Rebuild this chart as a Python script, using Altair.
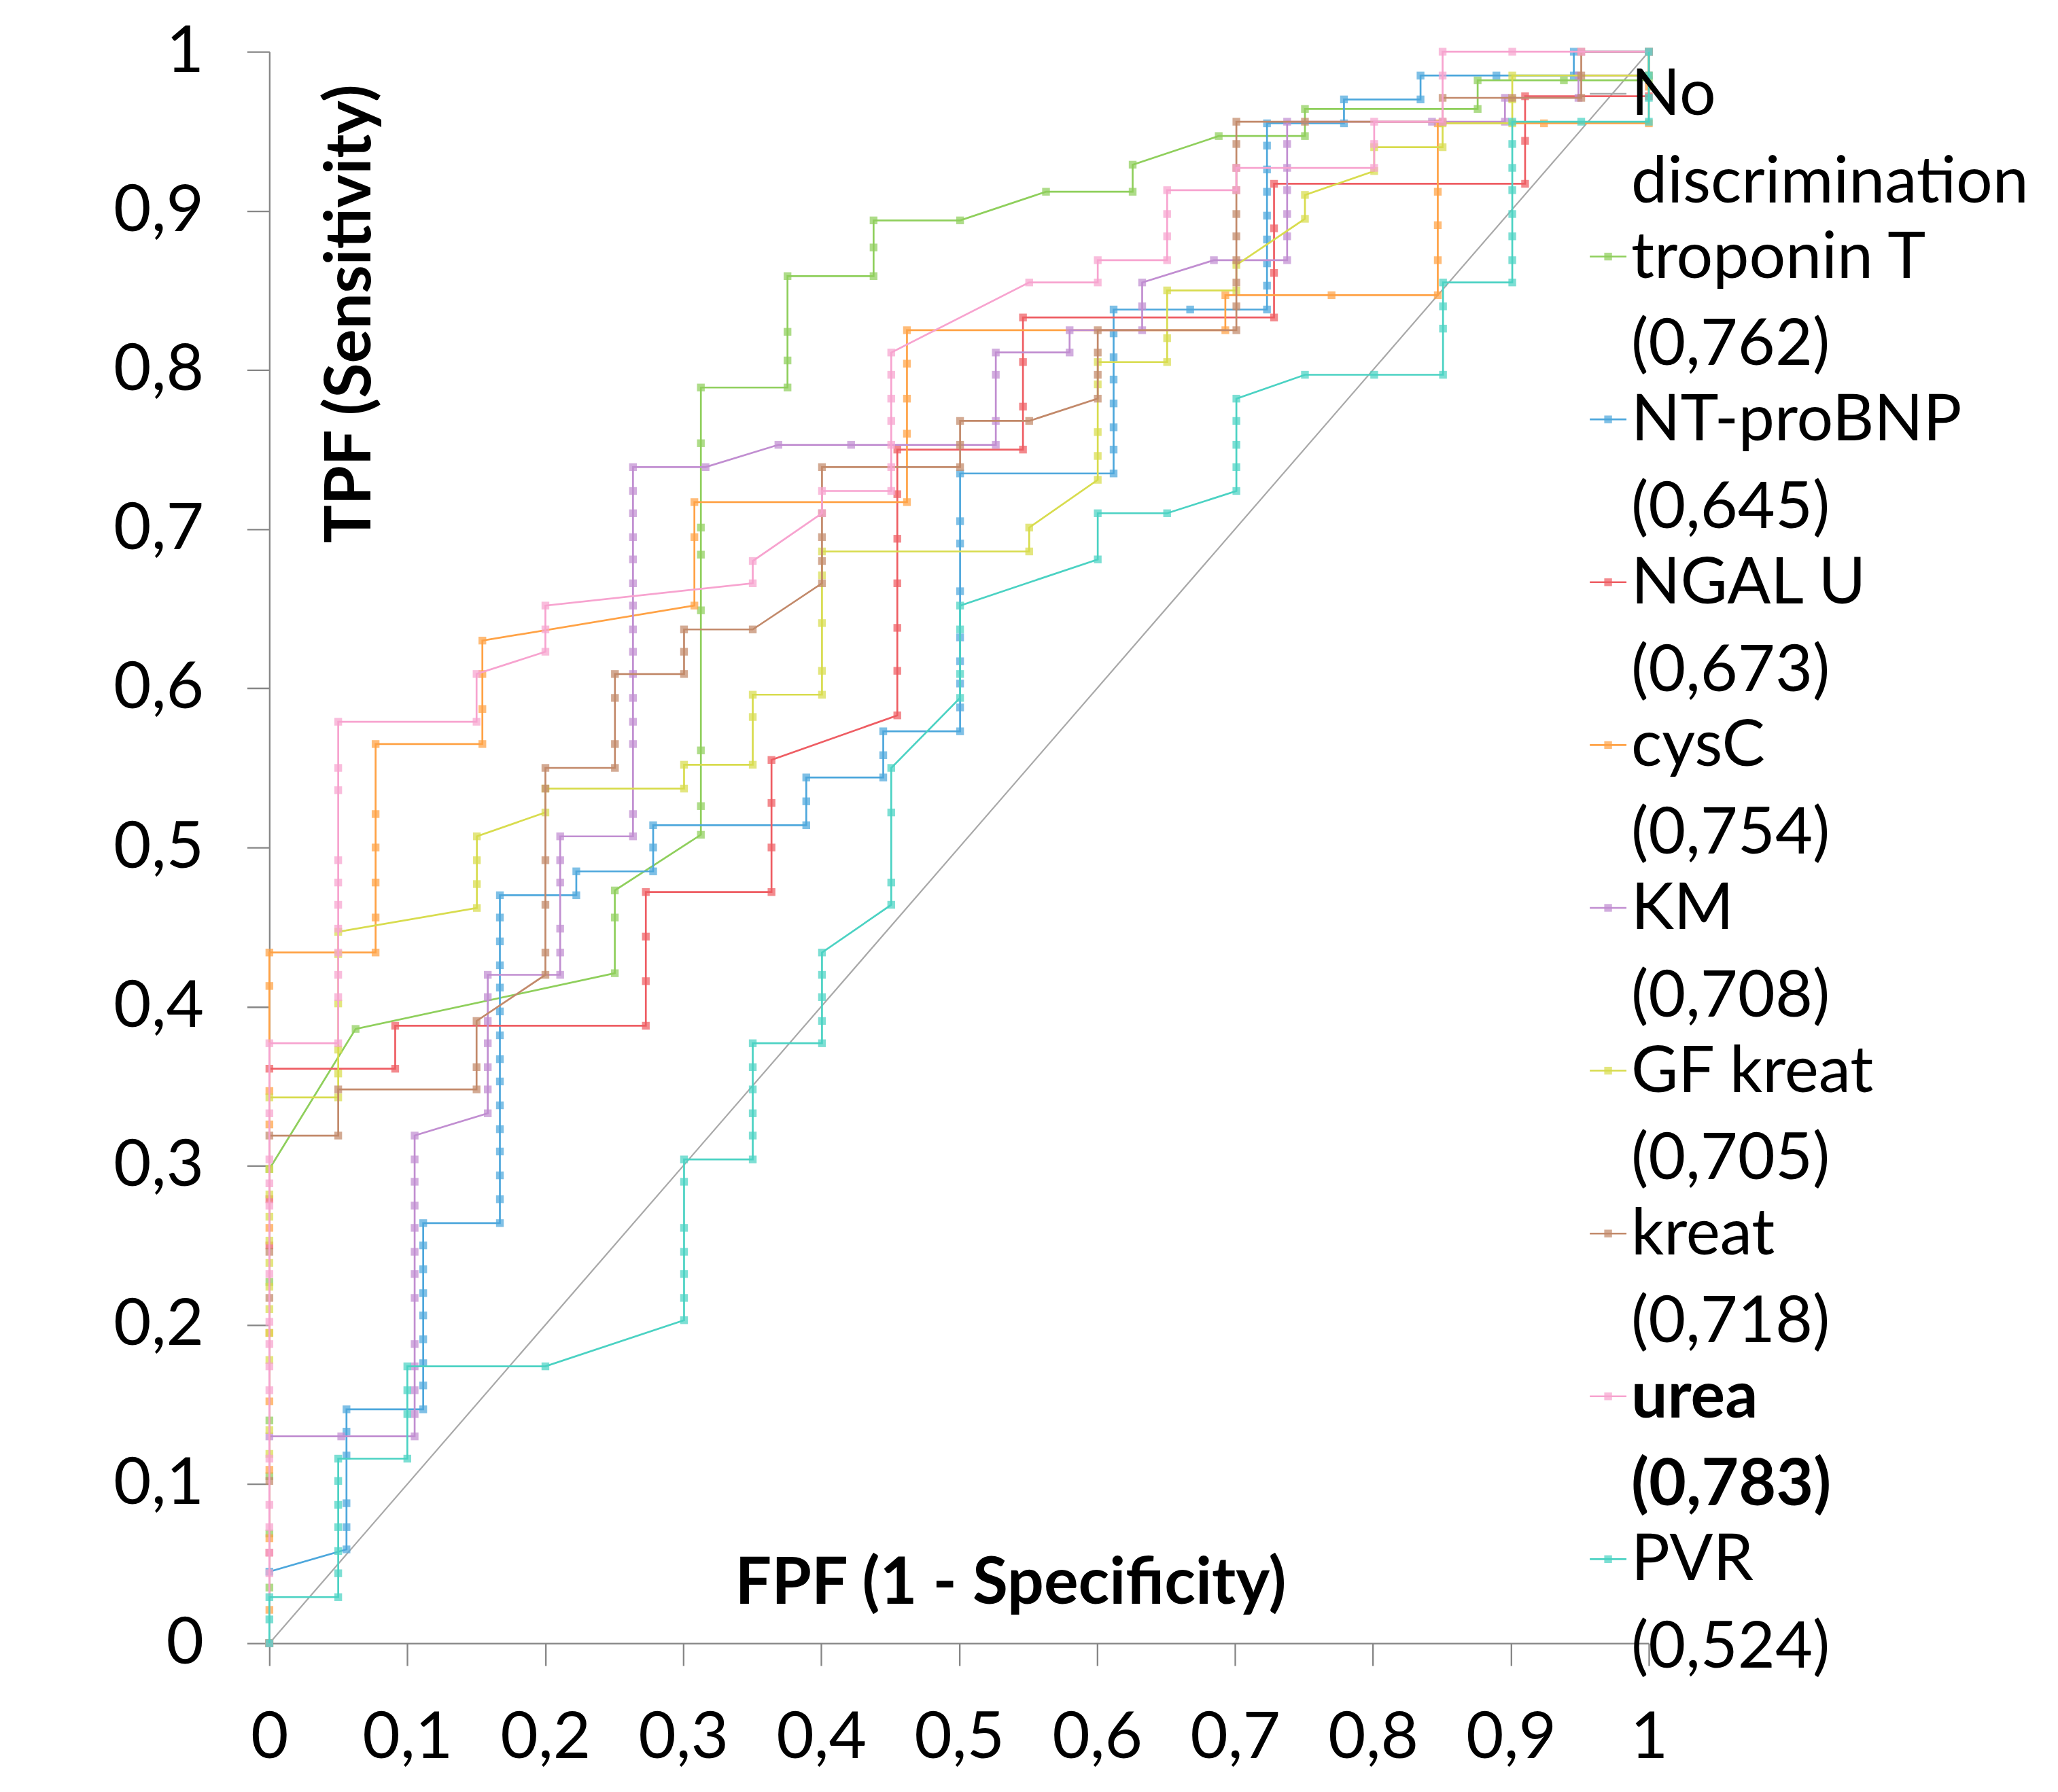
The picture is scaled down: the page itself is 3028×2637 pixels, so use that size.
import altair as alt
import pandas as pd

# ---------------- data ----------------
names = ["No discrimination", "troponin T", "NT-proBNP", "NGAL U", "cysC",
         "KM", "GF kreat", "kreat", "urea", "PVR"]
colors = ["#a8a8a8", "#8fcf5c", "#4da7dc", "#ee5d63", "#ffa245",
          "#c18ed1", "#d8dc4e", "#c2896a", "#f7a3cf", "#4bd2c3"]

legend_line1 = ["No", "troponin T", "NT-proBNP", "NGAL U", "cysC",
                "KM", "GF kreat", "kreat", "urea", "PVR"]
legend_line2 = ["discrimination", "(0,762)", "(0,645)", "(0,673)", "(0,754)",
                "(0,708)", "(0,705)", "(0,718)", "(0,783)", "(0,524)"]
legend_bold = [False, False, False, False, False, False, False, False, True, False]

no_discrimination = [(0, 0), (1, 1)]

troponin_t = [(0,0),(0,0.035),(0,0.069),(0,0.105),(0,0.140),(0,0.227),(0,0.298),(0.0625,0.386),
              (0.2504,0.421),(0.2504,0.456),(0.2504,0.473),(0.3128,0.508),(0.3128,0.526),(0.3128,0.561),
              (0.3128,0.649),(0.3128,0.684),(0.3128,0.701),(0.3128,0.754),(0.3128,0.789),(0.3756,0.789),
              (0.3756,0.806),(0.3756,0.824),(0.3756,0.859),(0.438,0.859),(0.438,0.877),(0.438,0.894),
              (0.5007,0.894),(0.563,0.912),(0.6258,0.912),(0.6258,0.929),(0.6882,0.947),(0.7507,0.947),
              (0.7507,0.964),(0.8759,0.964),(0.8759,0.982),(0.9384,0.982),(1,0.982),(1,1)]

nt_probnp = [(0,0),(0,0.045),(0.0559,0.059),(0.0559,0.073),(0.0559,0.088),(0.0559,0.118),(0.0559,0.133),
             (0.0559,0.147),(0.1115,0.147),(0.1115,0.162),(0.1115,0.176),(0.1115,0.191),(0.1115,0.206),
             (0.1115,0.220),(0.1115,0.235),(0.1115,0.250),(0.1115,0.264),(0.1671,0.264),(0.1671,0.279),
             (0.1671,0.294),(0.1671,0.309),(0.1671,0.323),(0.1671,0.338),(0.1671,0.353),(0.1671,0.367),
             (0.1671,0.382),(0.1671,0.397),(0.1671,0.412),(0.1671,0.426),(0.1671,0.441),(0.1671,0.456),
             (0.1671,0.470),(0.2225,0.470),(0.2225,0.485),(0.2782,0.485),(0.2782,0.500),(0.2782,0.514),
             (0.3892,0.514),(0.3892,0.529),(0.3892,0.544),(0.445,0.544),(0.445,0.558),(0.445,0.573),
             (0.5007,0.573),(0.5007,0.588),(0.5007,0.603),(0.5007,0.617),(0.5007,0.632),(0.5007,0.661),
             (0.5007,0.691),(0.5007,0.705),(0.5007,0.735),(0.612,0.735),(0.612,0.750),(0.612,0.764),
             (0.612,0.779),(0.612,0.794),(0.612,0.808),(0.612,0.823),(0.612,0.838),(0.6675,0.838),
             (0.7232,0.838),(0.7232,0.853),(0.7232,0.867),(0.7232,0.882),(0.7232,0.897),(0.7232,0.912),
             (0.7232,0.926),(0.7232,0.941),(0.7232,0.955),(0.779,0.955),(0.779,0.970),(0.8345,0.970),
             (0.8345,0.985),(0.8895,0.985),(0.9456,0.985),(0.9456,1),(1,1)]

ngal_u = [(0,0),(0,0.057),(0,0.250),(0,0.279),(0,0.361),(0.0912,0.361),(0.0912,0.388),(0.2729,0.388),
          (0.2729,0.416),(0.2729,0.444),(0.2729,0.472),(0.364,0.472),(0.364,0.500),(0.364,0.528),
          (0.364,0.555),(0.4552,0.583),(0.4552,0.611),(0.4552,0.638),(0.4552,0.666),(0.4552,0.694),
          (0.4552,0.722),(0.4552,0.750),(0.5463,0.750),(0.5463,0.777),(0.5463,0.805),(0.5463,0.833),
          (0.7283,0.833),(0.7283,0.861),(0.7283,0.889),(0.7283,0.917),(0.9103,0.917),(0.9103,0.944),
          (0.9103,0.972),(1,0.972),(1,1)]

cysc = [(0,0),(0,0.021),(0,0.066),(0,0.109),(0,0.152),(0,0.195),(0,0.261),(0,0.326),(0,0.347),
        (0,0.413),(0,0.434),(0.077,0.434),(0.077,0.456),(0.077,0.478),(0.077,0.500),(0.077,0.521),
        (0.077,0.565),(0.1544,0.565),(0.1544,0.587),(0.1544,0.609),(0.1544,0.630),(0.3081,0.652),
        (0.3081,0.695),(0.3081,0.717),(0.4622,0.717),(0.4622,0.760),(0.4622,0.782),(0.4622,0.804),
        (0.4622,0.825),(0.693,0.825),(0.693,0.847),(0.770,0.847),(0.847,0.847),(0.847,0.869),
        (0.847,0.891),(0.847,0.912),(0.847,0.955),(0.924,0.955),(1,0.955),(1,0.978),(1,1)]

km = [(0,0),(0,0.130),(0.0521,0.130),(0.1053,0.130),(0.1053,0.144),(0.1053,0.159),(0.1053,0.174),
      (0.1053,0.188),(0.1053,0.217),(0.1053,0.232),(0.1053,0.246),(0.1053,0.261),(0.1053,0.275),
      (0.1053,0.290),(0.1053,0.304),(0.1053,0.319),(0.1583,0.333),(0.1583,0.348),(0.1583,0.362),
      (0.1583,0.377),(0.1583,0.391),(0.1583,0.406),(0.1583,0.420),(0.2108,0.420),(0.2108,0.434),
      (0.2108,0.449),(0.2108,0.478),(0.2108,0.492),(0.2108,0.507),(0.2636,0.507),(0.2636,0.521),
      (0.2636,0.565),(0.2636,0.579),(0.2636,0.594),(0.2636,0.609),(0.2636,0.623),(0.2636,0.637),
      (0.2636,0.652),(0.2636,0.666),(0.2636,0.681),(0.2636,0.695),(0.2636,0.710),(0.2636,0.724),
      (0.2636,0.739),(0.3162,0.739),(0.369,0.753),(0.4217,0.753),(0.5266,0.753),(0.5266,0.768),
      (0.5266,0.797),(0.5266,0.811),(0.5801,0.811),(0.5801,0.825),(0.6327,0.825),(0.6327,0.840),
      (0.6327,0.855),(0.6847,0.869),(0.7378,0.869),(0.7378,0.884),(0.7378,0.898),(0.7378,0.913),
      (0.7378,0.927),(0.7378,0.942),(0.7378,0.956),(0.8428,0.956),(0.8957,0.956),(0.8957,0.971),
      (0.949,0.971),(0.949,0.985),(1,0.985),(1,1)]

gf_kreat = [(0,0),(0,0.119),(0,0.134),(0,0.178),(0,0.195),(0,0.210),(0,0.224),(0,0.239),(0,0.253),
            (0,0.268),(0,0.282),(0,0.298),(0,0.343),(0.0499,0.343),(0.0499,0.358),(0.0499,0.373),
            (0.0499,0.402),(0.0499,0.433),(0.0499,0.447),(0.1504,0.462),(0.1504,0.477),(0.1504,0.492),
            (0.1504,0.507),(0.2001,0.522),(0.2001,0.537),(0.3006,0.537),(0.3006,0.552),(0.3504,0.552),
            (0.3504,0.582),(0.3504,0.596),(0.4006,0.596),(0.4006,0.611),(0.4006,0.641),(0.4006,0.671),
            (0.4006,0.686),(0.5508,0.686),(0.5508,0.701),(0.6005,0.731),(0.6005,0.746),(0.6005,0.761),
            (0.6005,0.791),(0.6005,0.805),(0.6508,0.805),(0.6508,0.820),(0.6508,0.850),(0.701,0.850),
            (0.701,0.866),(0.7507,0.895),(0.7507,0.910),(0.8009,0.925),(0.8009,0.940),(0.8505,0.940),
            (0.8505,0.955),(0.901,0.955),(0.901,0.970),(0.901,0.985),(1,0.985),(1,1)]

kreat = [(0,0),(0,0.102),(0,0.217),(0,0.246),(0,0.319),(0.0499,0.319),(0.0499,0.348),(0.1502,0.348),
         (0.1502,0.362),(0.1502,0.391),(0.2001,0.420),(0.2001,0.434),(0.2001,0.464),(0.2001,0.492),
         (0.2001,0.537),(0.2001,0.550),(0.2505,0.550),(0.2505,0.565),(0.2505,0.594),(0.2505,0.609),
         (0.3006,0.609),(0.3006,0.623),(0.3006,0.637),(0.3504,0.637),(0.4006,0.666),(0.4006,0.680),
         (0.4006,0.695),(0.4006,0.710),(0.4006,0.739),(0.5007,0.739),(0.5007,0.753),(0.5007,0.768),
         (0.5508,0.768),(0.6005,0.782),(0.6005,0.797),(0.6005,0.811),(0.6005,0.825),(0.701,0.825),
         (0.701,0.840),(0.701,0.855),(0.701,0.869),(0.701,0.884),(0.701,0.898),(0.701,0.913),
         (0.701,0.927),(0.701,0.942),(0.701,0.956),(0.7507,0.956),(0.8505,0.956),(0.8505,0.971),
         (0.901,0.971),(0.951,0.971),(0.951,0.985),(0.951,1),(1,1)]

urea = [(0,0),(0,0.044),(0,0.057),(0,0.073),(0,0.087),(0,0.116),(0,0.159),(0,0.174),(0,0.188),
        (0,0.202),(0,0.232),(0,0.275),(0,0.289),(0,0.304),(0,0.333),(0,0.377),(0.0499,0.377),
        (0.0499,0.406),(0.0499,0.420),(0.0499,0.434),(0.0499,0.449),(0.0499,0.464),(0.0499,0.478),
        (0.0499,0.492),(0.0499,0.536),(0.0499,0.550),(0.0499,0.579),(0.1502,0.579),(0.1502,0.609),
        (0.2001,0.623),(0.2001,0.637),(0.2001,0.652),(0.3504,0.666),(0.3504,0.680),(0.4006,0.710),
        (0.4006,0.724),(0.4508,0.724),(0.4508,0.739),(0.4508,0.753),(0.4508,0.768),(0.4508,0.782),
        (0.4508,0.797),(0.4508,0.811),(0.5508,0.855),(0.6005,0.855),(0.6005,0.869),(0.6508,0.869),
        (0.6508,0.884),(0.6508,0.898),(0.6508,0.913),(0.701,0.913),(0.701,0.927),(0.8009,0.927),
        (0.8009,0.942),(0.8009,0.956),(0.8505,0.956),(0.8505,0.985),(0.8505,1),(0.901,1),(0.951,1),(1,1)]

pvr = [(0,0),(0,0.015),(0,0.029),(0.0499,0.029),(0.0499,0.044),(0.0499,0.058),(0.0499,0.073),
       (0.0499,0.087),(0.0499,0.102),(0.0499,0.116),(0.1,0.116),(0.1,0.144),(0.1,0.159),(0.1,0.174),
       (0.2001,0.174),(0.3006,0.203),(0.3006,0.217),(0.3006,0.232),(0.3006,0.246),(0.3006,0.261),
       (0.3006,0.290),(0.3006,0.304),(0.3504,0.304),(0.3504,0.319),(0.3504,0.333),(0.3504,0.348),
       (0.3504,0.362),(0.3504,0.377),(0.4006,0.377),(0.4006,0.391),(0.4006,0.406),(0.4006,0.420),
       (0.4006,0.434),(0.4508,0.464),(0.4508,0.478),(0.4508,0.522),(0.4508,0.550),(0.5007,0.594),
       (0.5007,0.609),(0.5007,0.637),(0.5007,0.652),(0.6005,0.681),(0.6005,0.710),(0.6508,0.710),
       (0.701,0.724),(0.701,0.739),(0.701,0.753),(0.701,0.768),(0.701,0.782),(0.7507,0.797),
       (0.8009,0.797),(0.8508,0.797),(0.8508,0.826),(0.8508,0.840),(0.8508,0.855),(0.901,0.855),
       (0.901,0.869),(0.901,0.884),(0.901,0.898),(0.901,0.913),(0.901,0.927),(0.901,0.942),
       (0.901,0.956),(0.951,0.956),(1,0.956),(1,0.971),(1,0.985),(1,1)]

tick_values = [0, 0.1, 0.2, 0.3, 0.4, 0.5, 0.6, 0.7, 0.8, 0.9, 1]

# ---------------- tables ----------------
series_points = [no_discrimination, troponin_t, nt_probnp, ngal_u, cysc, km, gf_kreat, kreat, urea, pvr]
rows = []
for name, pts in zip(names, series_points):
    for i, (x, y) in enumerate(pts):
        rows.append({"series": name, "i": i, "fpf": x, "tpf": y})
df = pd.DataFrame(rows)

leg_df = pd.DataFrame({"k": list(range(len(names))), "series": names,
                       "line1": legend_line1, "line2": legend_line2, "bold": legend_bold})

# ---------------- encodings ----------------
FONT = "Lato"
AXIS_GRAY = "#868686"
label_expr = "replace(format(datum.value, '.1~f'), '.', ',')"

x_axis = alt.Axis(values=tick_values, labelExpr=label_expr, grid=False, tickSize=33,
                  tickWidth=2.3, domainWidth=2.3, tickColor=AXIS_GRAY, domainColor=AXIS_GRAY,
                  labelFont=FONT, labelFontSize=96, labelColor="black", labelPadding=60,
                  labelFlush=False, title="FPF (1 - Specificity)", titleFont=FONT,
                  titleFontSize=95, titleFontWeight="bold", titleColor="black",
                  titleX=1092, titleY=-59, titleAlign="center", titleBaseline="alphabetic")
y_axis = alt.Axis(values=tick_values, labelExpr=label_expr, grid=False, tickSize=33,
                  tickWidth=2.3, domainWidth=2.3, tickColor=AXIS_GRAY, domainColor=AXIS_GRAY,
                  labelFont=FONT, labelFontSize=96, labelColor="black", labelPadding=64,
                  labelFlush=False, title="TPF (Sensitivity)", titleFont=FONT,
                  titleFontSize=94, titleFontWeight="bold", titleColor="black",
                  titleAngle=270, titleX=148, titleY=386, titleAlign="center",
                  titleBaseline="alphabetic")

X = alt.X("fpf:Q", scale=alt.Scale(domain=[0, 1], nice=False, zero=False), axis=x_axis)
Y = alt.Y("tpf:Q", scale=alt.Scale(domain=[0, 1], nice=False, zero=False), axis=y_axis)
C = alt.Color("series:N", scale=alt.Scale(domain=names, range=colors), legend=None)
O = alt.Order("i:Q")

main_layers = []
base = alt.Chart(df)
for idx, name in enumerate(names):
    sel = base.transform_filter(alt.datum.series == name)
    if idx == 0:
        main_layers.append(sel.mark_line(strokeWidth=2.2).encode(x=X, y=Y, color=C, order=O))
        continue
    main_layers.append(sel.mark_line(strokeWidth=2.7).encode(x=X, y=Y, color=C, order=O))
    main_layers.append(sel.mark_point(shape="square", filled=True, size=130, opacity=0.72)
                       .encode(x=X, y=Y, color=C))
main = alt.layer(*main_layers)

# ---------------- custom legend ----------------
LY = alt.Y("k:Q", scale=alt.Scale(domain=[0, 9], range=[93, 2253]), axis=None)
leg = alt.Chart(leg_df)
txt_kw = dict(align="left", baseline="alphabetic", font=FONT, fontSize=95, color="black")
legend_layers = [
    leg.mark_rule(strokeWidth=2.6, yOffset=-31).encode(x=alt.value(1946), x2=alt.value(2000), y=LY, color=C),
    leg.transform_filter("datum.k > 0").mark_point(shape="square", filled=True, size=130,
                                                    opacity=0.72, yOffset=-31)
       .encode(x=alt.value(1973), y=LY, color=C),
    leg.transform_filter("!datum.bold").mark_text(**txt_kw).encode(x=alt.value(2007), y=LY, text="line1:N"),
    leg.transform_filter("!datum.bold").mark_text(dy=129, **txt_kw).encode(x=alt.value(2007), y=LY, text="line2:N"),
    leg.transform_filter("datum.bold").mark_text(fontWeight="bold", **txt_kw).encode(x=alt.value(2007), y=LY, text="line1:N"),
    leg.transform_filter("datum.bold").mark_text(dy=129, fontWeight="bold", **txt_kw).encode(x=alt.value(2007), y=LY, text="line2:N"),
]
legend = alt.layer(*legend_layers)

chart = (alt.layer(main, legend)
         .resolve_scale(y="independent")
         .properties(width=2033, height=2346,
                     autosize=alt.AutoSizeParams(type="none"),
                     padding={"left": 389, "top": 66, "right": 595, "bottom": 210},
                     background="white")
         .configure_view(stroke=None))

chart.save("out.html", embed_options={"renderer": "svg", "actions": False})
